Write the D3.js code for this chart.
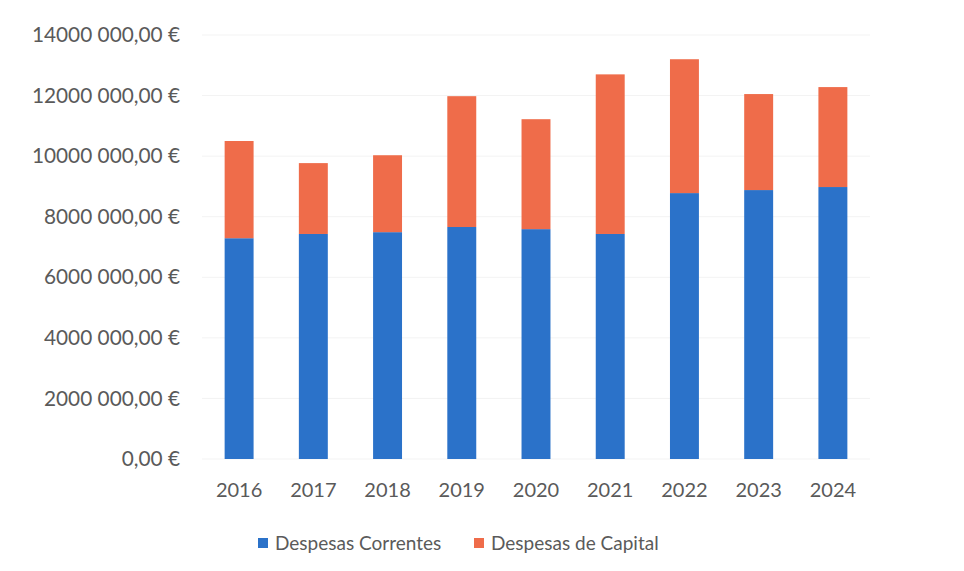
<!DOCTYPE html>
<html lang="pt">
<head>
<meta charset="UTF-8">
<title>Despesas</title>
<script src="https://d3js.org/d3.v7.min.js"></script>
<style>
    body { margin: 0; background: #fff; overflow: hidden; }
    svg text { font-family: Lato, "Open Sans", sans-serif; fill: #5a5a5a; }
    .tick text { font-size: 20px; }
    .y-axis .tick text { font-size: 20.8px; }
    .legend text { font-size: 19px; }
</style>
</head>
<body>
<svg id="chart"></svg>
<script>
const years = ["2016", "2017", "2018", "2019", "2020", "2021", "2022", "2023", "2024"];
const correntes = [7290000, 7430000, 7490000, 7660000, 7590000, 7430000, 8780000, 8880000, 8980000];
const capital = [3210000, 2340000, 2540000, 4320000, 3630000, 5270000, 4420000, 3170000, 3300000];
const seriesNames = ["Despesas Correntes", "Despesas de Capital"];
const seriesColors = ["#2b72c9", "#ef6c4a"];
const yTicks = [0, 2000000, 4000000, 6000000, 8000000, 10000000, 12000000, 14000000];

const width = 964, height = 571;
const margin = {top: 35, left: 202, right: 94, bottom: 112};

const svg = d3.select("#chart").attr("width", width).attr("height", height);

const x = d3.scaleBand().domain(years)
    .range([margin.left, width - margin.right])
    .paddingInner(0.61).paddingOuter(0.305);
const y = d3.scaleLinear().domain([0, 14000000])
    .range([height - margin.bottom, margin.top]);

// euro format like "14000 000,00 €"
function euro(v) {
    if (v === 0) return "0,00 €";
    return Math.floor(v / 1000) + " " + String(v % 1000).padStart(3, "0") + ",00 €";
}

// grid (very faint in the original)
svg.append("g")
    .selectAll("line")
    .data(yTicks)
    .join("line")
    .attr("x1", margin.left).attr("x2", width - margin.right)
    .attr("y1", d => y(d)).attr("y2", d => y(d))
    .attr("stroke", "#f3f3f3").attr("stroke-width", 1);

const yAxis = svg.append("g")
    .attr("class", "y-axis")
    .attr("transform", `translate(182,0)`)
    .call(d3.axisLeft(y).tickValues(yTicks).tickFormat(euro).tickSize(0).tickPadding(2));
yAxis.select(".domain").remove();

const xAxis = svg.append("g")
    .attr("transform", `translate(0,${height - margin.bottom})`)
    .call(d3.axisBottom(x).tickSize(0).tickPadding(24));
xAxis.select(".domain").remove();

const table = years.map((yr, i) => ({year: yr, c: correntes[i], k: capital[i]}));
const stack = d3.stack().keys(["c", "k"])(table);

svg.append("g")
    .selectAll("g")
    .data(stack)
    .join("g")
    .attr("fill", (d, i) => seriesColors[i])
    .selectAll("rect")
    .data(d => d)
    .join("rect")
    .attr("x", d => x(d.data.year))
    .attr("width", x.bandwidth())
    .attr("y", d => y(d[1]))
    .attr("height", d => y(d[0]) - y(d[1]));

// legend
const legendX = [258, 474];
const legend = svg.append("g").attr("class", "legend");
const items = legend.selectAll("g")
    .data(seriesNames)
    .join("g")
    .attr("transform", (d, i) => `translate(${legendX[i]},543)`);
items.append("rect")
    .attr("x", 0).attr("y", -5)
    .attr("width", 10).attr("height", 10)
    .attr("fill", (d, i) => seriesColors[i]);
items.append("text")
    .attr("x", 17).attr("dy", "0.35em")
    .text(d => d);
</script>
</body>
</html>
